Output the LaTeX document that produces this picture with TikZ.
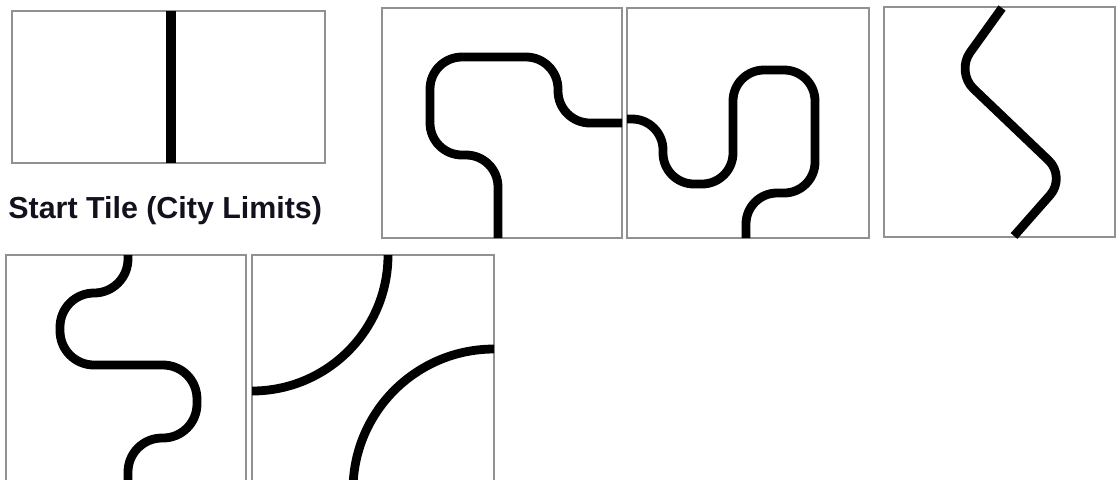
\documentclass[tikz,border=0pt]{standalone}
\usepackage{fontspec}
\newfontfamily\capfont{Liberation Sans}
\definecolor{tileedge}{RGB}{145,145,145}
\definecolor{captext}{RGB}{18,18,30}
\tikzset{
  tilebox/.style={draw=tileedge, line width=1.1pt},
  road/.style={draw=black, line width=4.4pt, line join=round},
}
\begin{document}
\begin{tikzpicture}[x=0.5pt,y=-0.5pt]
\useasboundingbox (0,0) rectangle (1118,479);
\clip (0,0) rectangle (1118,479);
% start tile
\draw[tilebox] (12,11) rectangle (325,163);
\draw[draw=black, line width=4.6pt] (171,11) -- (171,163);
\node[anchor=base west, inner sep=0pt, text=captext, font=\capfont\bfseries\fontsize{15.2pt}{18pt}\selectfont] (cap) at (8,218) {Start Tile (City Limits)};
% tile A
\draw[tilebox] (382,8) rectangle (622,238);
\draw[road, rounded corners=16pt] (498,238) -- (498,155) -- (430,155) -- (430,57) -- (558,57) -- (558,123) -- (622,123);
% tile B
\draw[tilebox] (627,8) rectangle (869,238);
\draw[road, rounded corners=15.5pt] (627,119) -- (663,119) -- (663,184) -- (733,184) -- (733,70) -- (815,70) -- (815,193) -- (746,193) -- (746,238);
% tile C
\draw[tilebox] (884,7) rectangle (1115,237);
\draw[road, rounded corners=12pt] (1002,8) -- (956,72) -- (1066,177) -- (1014,236);
% tile D
\draw[tilebox] (6,255) rectangle (246,495);
\draw[road, rounded corners=17pt] (128,255) -- (128,293) -- (60,293) -- (60,365) -- (197,365) -- (197,438) -- (128,438) -- (128,490);
% tile E
\draw[tilebox] (252,255) rectangle (494,495);
\begin{scope}
\clip (252,255) rectangle (494,495);
\draw[road] (252,255) circle[radius=136];
\draw[road] (494,490) circle[radius=141];
\end{scope}
\end{tikzpicture}
\end{document}
